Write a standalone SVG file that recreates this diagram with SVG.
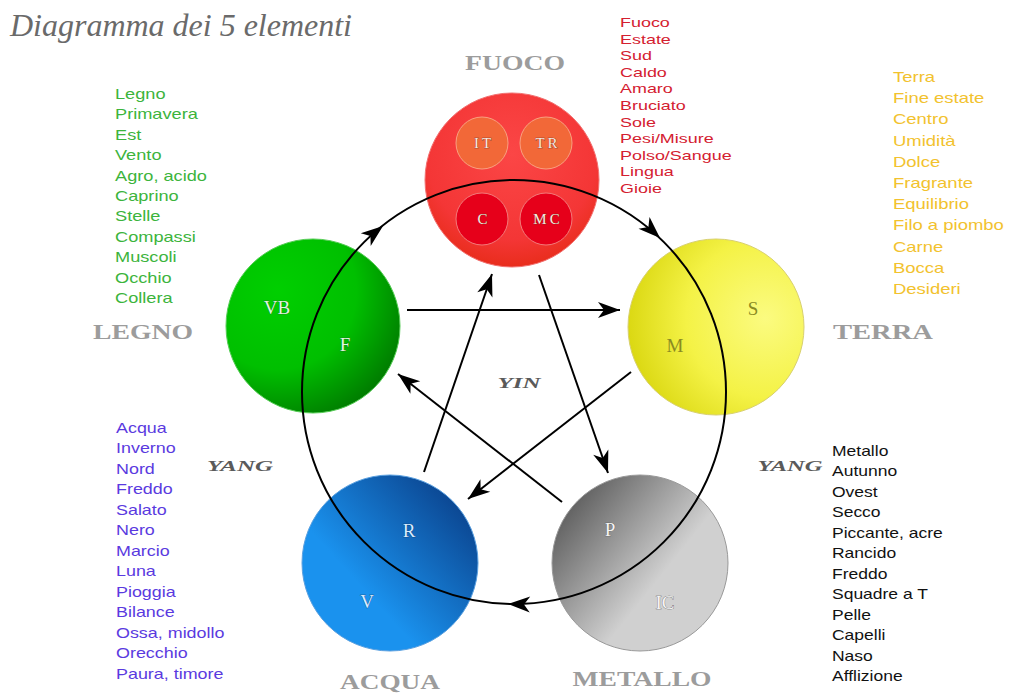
<svg xmlns="http://www.w3.org/2000/svg" width="1024" height="693" viewBox="0 0 1024 693">
<style>
.lst{font-family:"Liberation Sans",Arial,sans-serif;font-size:14px}
.red{font-family:"Liberation Sans",Arial,sans-serif;font-size:13px;fill:#d42030}
.lbl{font-family:"Liberation Serif","Times New Roman",serif;font-size:22px;font-weight:bold;fill:#9c9c9c;text-anchor:middle}
.yy{font-family:"Liberation Serif","Times New Roman",serif;font-size:15px;font-weight:bold;font-style:italic;fill:#5a5a5a;text-anchor:middle}
.ltr{font-family:"Liberation Serif","Times New Roman",serif;font-size:19px;text-anchor:middle;paint-order:stroke;stroke-width:0.6}
.inr{font-family:"Liberation Serif","Times New Roman",serif;font-size:15px;text-anchor:middle;fill:#f8eae0;stroke:#7a3020;stroke-width:0.6;paint-order:stroke;letter-spacing:3px}
.conn{stroke:#000;stroke-width:2;fill:none}
</style>
<defs>
<radialGradient id="gFire" cx="0.5" cy="0.35" r="0.7">
<stop offset="0" stop-color="#fb4646"/><stop offset="0.7" stop-color="#f43636"/><stop offset="1" stop-color="#e52a14"/>
</radialGradient>
<radialGradient id="gWood" cx="0.3" cy="0.3" r="0.9">
<stop offset="0" stop-color="#00cf00"/><stop offset="0.5" stop-color="#00bf00"/><stop offset="1" stop-color="#006400"/>
</radialGradient>
<radialGradient id="gEarth" cx="0.78" cy="0.45" r="0.9">
<stop offset="0" stop-color="#fbfb80"/><stop offset="0.5" stop-color="#f4f246"/><stop offset="1" stop-color="#d2cf00"/>
</radialGradient>
<linearGradient id="gWater" x1="0.9" y1="0.15" x2="0.35" y2="0.65">
<stop offset="0" stop-color="#0b4590"/><stop offset="1" stop-color="#1a92ee"/>
</linearGradient>
<linearGradient id="gMetal" x1="0.1" y1="0.2" x2="0.6" y2="0.6">
<stop offset="0" stop-color="#646464"/><stop offset="1" stop-color="#d0d0d0"/>
</linearGradient>
<marker id="ah" markerUnits="userSpaceOnUse" markerWidth="26" markerHeight="20" viewBox="-24 -10 26 20" refX="0" refY="0" orient="auto">
<path d="M0,0 L-22,-8 L-16,0 L-22,8 Z" fill="#000"/>
</marker>
<path id="head" d="M0,0 L-22,-8 L-16,0 L-22,8 Z" fill="#000"/>
</defs>
<rect width="1024" height="693" fill="#fff"/>

<text x="10" y="36" font-family="'Liberation Serif','Times New Roman',serif" font-style="italic" font-size="32" fill="#6a6a6a" textLength="342" lengthAdjust="spacingAndGlyphs">Diagramma dei 5 elementi</text>

<g id="fuoco">
<circle cx="512" cy="180" r="87" fill="url(#gFire)" stroke="#f27070" stroke-width="1"/>
<circle cx="482" cy="143" r="26" fill="#f26838" stroke="#f9a080" stroke-width="1"/>
<circle cx="546" cy="143" r="26" fill="#f26838" stroke="#f9a080" stroke-width="1"/>
<circle cx="482" cy="219" r="26" fill="#e6001a" stroke="#f37a7a" stroke-width="1"/>
<circle cx="546" cy="219" r="26" fill="#e6001a" stroke="#f37a7a" stroke-width="1"/>
<text class="inr" x="484" y="148">IT</text>
<text class="inr" x="548" y="148">TR</text>
<text class="inr" x="484" y="224">C</text>
<text class="inr" x="548" y="224">MC</text>
<text class="lbl" x="515" y="70" textLength="100" lengthAdjust="spacingAndGlyphs">FUOCO</text>
</g>

<g id="legno">
<circle cx="313" cy="326" r="87" fill="url(#gWood)" stroke="#55cc55" stroke-width="1"/>
<text class="ltr" x="277" y="314" fill="#dff5df" stroke="#2a6a2a">VB</text>
<text class="ltr" x="345" y="351" fill="#dff5df" stroke="#2a6a2a">F</text>
<text class="lbl" x="143" y="339" textLength="100" lengthAdjust="spacingAndGlyphs">LEGNO</text>
</g>

<g id="terra">
<circle cx="716" cy="327" r="88" fill="url(#gEarth)" stroke="#d8d070" stroke-width="1"/>
<text class="ltr" x="753" y="315" fill="#8a8a22" stroke="none">S</text>
<text class="ltr" x="675" y="352" fill="#8a8a22" stroke="none">M</text>
<text class="lbl" x="883" y="339" textLength="100" lengthAdjust="spacingAndGlyphs">TERRA</text>
</g>

<g id="acqua">
<circle cx="390" cy="563" r="88" fill="url(#gWater)" stroke="#5aa0e0" stroke-width="1"/>
<text class="ltr" x="409" y="537" fill="#d8ecff" stroke="#0a3a70">R</text>
<text class="ltr" x="367" y="608" fill="#d8ecff" stroke="#0a3a70">V</text>
<text class="lbl" x="390" y="689" textLength="100" lengthAdjust="spacingAndGlyphs">ACQUA</text>
</g>

<g id="metallo">
<circle cx="640" cy="563" r="88" fill="url(#gMetal)" stroke="#999" stroke-width="1"/>
<text class="ltr" x="610" y="536" fill="#f4f4f4" stroke="#555">P</text>
<text class="ltr" x="665" y="609" fill="#f4f4f4" stroke="#555">IC</text>
<text class="lbl" x="642" y="686" textLength="139" lengthAdjust="spacingAndGlyphs">METALLO</text>
</g>

<g id="connectors">
<circle class="conn" cx="514" cy="392" r="212"/>
<use href="#head" transform="translate(383,226) rotate(-38.3)"/>
<use href="#head" transform="translate(660,238) rotate(43.5)"/>
<use href="#head" transform="translate(508,604) rotate(181.6)"/>
<line class="conn" x1="407" y1="310" x2="620" y2="310" marker-end="url(#ah)"/>
<line class="conn" x1="539" y1="275" x2="608" y2="473" marker-end="url(#ah)"/>
<line class="conn" x1="631" y1="372" x2="468" y2="499" marker-end="url(#ah)"/>
<line class="conn" x1="562" y1="502" x2="398" y2="374" marker-end="url(#ah)"/>
<line class="conn" x1="424" y1="472" x2="492" y2="274" marker-end="url(#ah)"/>
</g>

<text class="yy" x="519" y="388" textLength="43" lengthAdjust="spacingAndGlyphs">YIN</text>
<text class="yy" x="240" y="471" textLength="66" lengthAdjust="spacingAndGlyphs">YANG</text>
<text class="yy" x="790" y="471" textLength="65" lengthAdjust="spacingAndGlyphs">YANG</text>

<g id="list-fuoco" transform="translate(620,0) scale(1.38,1)">
<text class="red" x="0" y="27">Fuoco</text>
<text class="red" x="0" y="43.6">Estate</text>
<text class="red" x="0" y="60.2">Sud</text>
<text class="red" x="0" y="76.8">Caldo</text>
<text class="red" x="0" y="93.4">Amaro</text>
<text class="red" x="0" y="110">Bruciato</text>
<text class="red" x="0" y="126.6">Sole</text>
<text class="red" x="0" y="143.2">Pesi/Misure</text>
<text class="red" x="0" y="159.8">Polso/Sangue</text>
<text class="red" x="0" y="176.4">Lingua</text>
<text class="red" x="0" y="193">Gioie</text>
</g>

<g id="list-legno" class="lst" fill="#3cb43c" transform="translate(115,0) scale(1.3,1)">
<text x="0" y="99">Legno</text>
<text x="0" y="119.4">Primavera</text>
<text x="0" y="139.8">Est</text>
<text x="0" y="160.2">Vento</text>
<text x="0" y="180.6">Agro, acido</text>
<text x="0" y="201">Caprino</text>
<text x="0" y="221.4">Stelle</text>
<text x="0" y="241.8">Compassi</text>
<text x="0" y="262.2">Muscoli</text>
<text x="0" y="282.6">Occhio</text>
<text x="0" y="303">Collera</text>
</g>

<g id="list-terra" class="lst" fill="#f2c22e" transform="translate(893,0) scale(1.32,1)">
<text x="0" y="82">Terra</text>
<text x="0" y="103.2">Fine estate</text>
<text x="0" y="124.4">Centro</text>
<text x="0" y="145.6">Umidità</text>
<text x="0" y="166.8">Dolce</text>
<text x="0" y="188">Fragrante</text>
<text x="0" y="209.2">Equilibrio</text>
<text x="0" y="230.4">Filo a piombo</text>
<text x="0" y="251.6">Carne</text>
<text x="0" y="272.8">Bocca</text>
<text x="0" y="294">Desideri</text>
</g>

<g id="list-acqua" class="lst" fill="#5a3ae0" transform="translate(116,0) scale(1.28,1)">
<text x="0" y="433">Acqua</text>
<text x="0" y="453.5">Inverno</text>
<text x="0" y="474">Nord</text>
<text x="0" y="494.5">Freddo</text>
<text x="0" y="515">Salato</text>
<text x="0" y="535.5">Nero</text>
<text x="0" y="556">Marcio</text>
<text x="0" y="576.5">Luna</text>
<text x="0" y="597">Pioggia</text>
<text x="0" y="617.5">Bilance</text>
<text x="0" y="638">Ossa, midollo</text>
<text x="0" y="658.5">Orecchio</text>
<text x="0" y="679">Paura, timore</text>
</g>

<g id="list-metallo" class="lst" fill="#111" transform="translate(832,0) scale(1.25,1)">
<text x="0" y="456">Metallo</text>
<text x="0" y="476.5">Autunno</text>
<text x="0" y="497">Ovest</text>
<text x="0" y="517.5">Secco</text>
<text x="0" y="538">Piccante, acre</text>
<text x="0" y="558.5">Rancido</text>
<text x="0" y="579">Freddo</text>
<text x="0" y="599.5">Squadre a T</text>
<text x="0" y="620">Pelle</text>
<text x="0" y="640.5">Capelli</text>
<text x="0" y="661">Naso</text>
<text x="0" y="681.5">Afflizione</text>
</g>
</svg>
